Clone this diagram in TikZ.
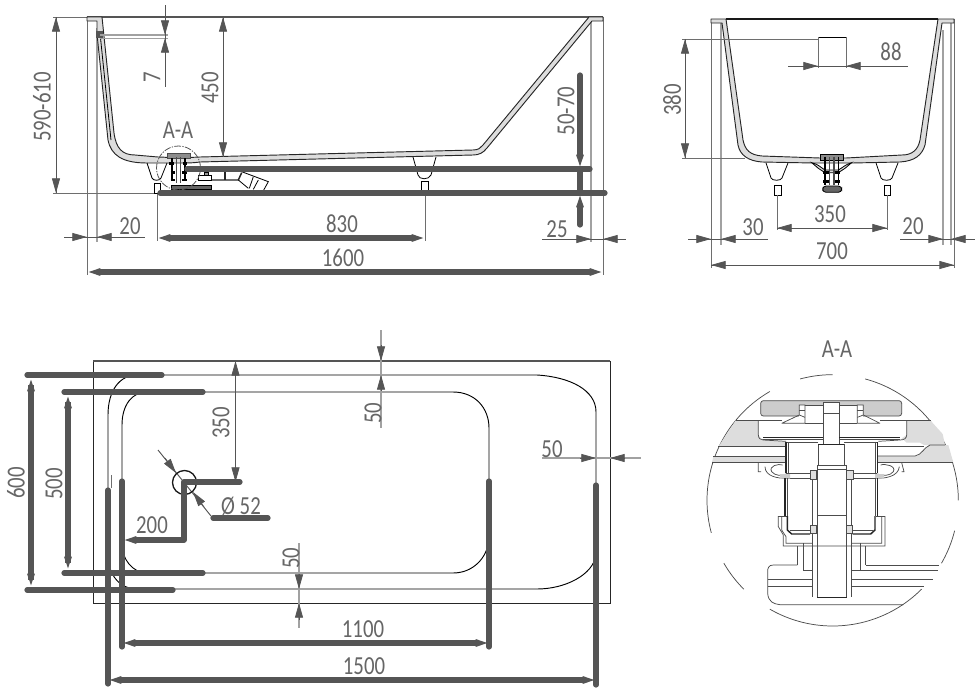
\documentclass[tikz,border=0pt]{standalone}
\usepackage{fontspec}
\setmainfont[FakeStretch=0.8]{Carlito}
\usetikzlibrary{arrows.meta}
\definecolor{dimc}{HTML}{555555}
\definecolor{txtc}{HTML}{666666}
\definecolor{bandc}{HTML}{DDDDDD}
\tikzset{
  x=0.75pt,y=-0.75pt,
  lbl/.style={font=\fontsize{19.5}{19.5}\selectfont,text=txtc,inner sep=0pt},
  vlbl/.style={lbl,rotate=90},
  ext/.style={draw=dimc!85,line width=0.6pt},
  lightext/.style={draw=dimc!55,line width=0.8pt},
  thin1/.style={draw=black,line width=0.6pt},
  bandline/.style={draw=black!85,fill=bandc,line width=0.7pt,line join=round},
  thickd/.style={draw=dimc,line width=3.9pt,line cap=round},
  hd/.style={draw=dimc,line width=0.6pt,-{Triangle[length=11pt,width=6pt,fill=dimc]}},
  dimline/.style={draw=dimc,line width=0.7pt},
  thk/.style={draw=dimc,line width=3.9pt,-{Triangle[length=10pt,width=5pt,fill=dimc]}},
  det/.style={draw=black!70,line width=0.55pt},
  detd/.style={draw=black!85,line width=1.1pt},
  arcd/.style={draw=black!70,line width=0.55pt,samples=30,smooth},
}
\begin{document}
\begin{tikzpicture}
\useasboundingbox (0,0) rectangle (980,696);
\fill[white] (0,0) rectangle (980,696);

%% ============ SIDE VIEW ===========
\draw[lightext] (97,28) -- (97,242);
\draw[lightext] (591,20) -- (591,242);
\draw[ext] (87,17) -- (87,275);
\draw[ext] (603,17) -- (603,275);
\draw[ext] (53,17) -- (87,17);
\draw[ext] (53,193) -- (157,193);
\draw[ext] (157,193) -- (157,241);
\draw[ext] (425,190) -- (425,241);
\draw[draw=dimc,line width=1.1pt] (87,17) -- (603,17);
% rim left + tub band
\draw[bandline] (87,17) -- (102,17) -- (114,133) .. controls (116,148) and (122,155) .. (135,155)
  -- (158,157) .. controls (165,157) and (172,158) .. (178,158) -- (200,157) -- (473,150)
  .. controls (478,150) and (481,148) .. (483,145) -- (589,17) -- (603,17) -- (603,21) -- (592,21)
  -- (487,148) .. controls (483,153) and (479,155) .. (473,155) -- (200,162)
  .. controls (192,163) and (190,163) .. (178,163) -- (147,163)
  .. controls (122,163) and (111,155) .. (108,140) -- (97,34) -- (97,21) -- (87,21) -- cycle;
\draw[thin1] (100,33) -- (111,140);
\fill[dimc] (96,31) rectangle (103,38);
\draw[lightext] (100,35) -- (168,35);
\draw[lightext] (100,38.5) -- (168,38.5);
% feet
\draw[thin1] (147,163) -- (152,178) .. controls (153,181) and (160,181) .. (161,178) -- (167,163);
\draw[thin1] (154,183) rectangle (160,193);
\draw[thin1] (413,157) -- (418,175) .. controls (419,180) and (429,180) .. (431,175) -- (436,157);
\draw[thin1] (421,181) rectangle (428,191);
% drain (side)
\begin{scope}[shift={(130,130)},x=0.25pt,y=-0.25pt]
 \draw[det,fill=black!45] (112,70) rectangle (180,84);
 \draw[black,line width=1.3pt] (125,85) -- (125,150) (165,85) -- (165,150);
 \draw[black!70,line width=1pt] (140,82) -- (140,160) (152,82) -- (152,160);
 \draw[black,line width=2pt] (118,100) -- (132,100) (158,100) -- (172,100) (122,128) -- (134,128) (156,128) -- (170,128) (122,150) -- (134,150) (156,150) -- (170,150);
 \draw[thin1,fill=black!60] (125,165) rectangle (245,178);
 \draw[thin1] (205,135) rectangle (245,150);
 \draw[thin1,fill=black!40] (222,128) rectangle (234,135);
 \draw[detd] (245,150) -- (325,150) -- (335,128);
 \draw[detd] (285,125) -- (285,150);
 \draw[thin1] (335,125) -- (415,155) -- (400,182) (355,175) -- (325,150);
 \draw[thin1] (370,140) -- (358,175) (385,150) -- (370,178);
\end{scope}
% circle A-A
\draw[dimc,line width=0.6pt,dash pattern=on 5pt off 1pt on 1pt off 1pt] (178.5,168) circle[radius=16.5pt];
\node[lbl] (aa1) at (178,130) {A-A};
% dims side
\draw[dimline] (56,17) -- (56,193);
\draw[hd] (56,30) -- (56,17);
\draw[hd] (56,180) -- (56,193);
\node[vlbl] (t590) at (42,107) {590-610};
\draw[dimline] (223,17) -- (223,157);
\draw[hd] (223,30) -- (223,17);
\draw[hd] (223,142) -- (223,157);
\node[vlbl] (t450) at (210,88) {450};
\draw[dimline] (165,5) -- (165,87);
\draw[hd] (165,20) -- (165,35);
\draw[hd] (165,53) -- (165,38);
\node[vlbl] (t7) at (152,77) {7};
\draw[dimline] (64,237) -- (145,237);
\draw[hd] (75,237) -- (87,237);
\draw[hd] (113,237) -- (97,237);
\node[lbl] (t20a) at (130,226) {20};
\draw[dimline] (542,239) -- (626,239);
\draw[hd] (576,239) -- (591,239);
\draw[hd] (619,239) -- (603,239);
\node[lbl] (t25) at (557,229) {25};
% thick lines side
\draw[thickd] (187,169) -- (590,169);
\draw[thickd] (160,193) -- (605,193);
\draw[thickd] (580,169) -- (580,193);
\draw[thickd] (580,75) -- (580,152);
\draw[thickd] (580,210) -- (580,225);
\draw[thk] (580,150) -- (580,168);
\draw[thk] (580,212) -- (580,194);
\draw[thk] (200,238) -- (157,238);
\draw[thk] (380,238) -- (425,238);
\draw[thk] (200,272) -- (87,272);
\draw[thk] (560,272) -- (603,272);
\draw[draw=dimc,line width=3.9pt] (190,238) -- (395,238);
\draw[draw=dimc,line width=3.9pt] (100,272) -- (590,272);
\node[lbl] (t830) at (342,224) {830};
\node[lbl] (t1600) at (343,258) {1600};
\node[vlbl] (t5070) at (566,111) {50-70};

%% ============ END VIEW ===========
\draw[lightext] (721,23) -- (721,245);
\draw[lightext] (943,30) -- (943,245);
\draw[lightext] (951,23) -- (951,245);
\draw[ext] (711,19) -- (711,268);
\draw[ext] (954,19) -- (954,268);
\draw[bandline] (711,19) -- (726,19) -- (743,140) .. controls (745,150) and (750,155) .. (762,156)
  -- (820,158) -- (846,158) -- (902,155) .. controls (912,155) and (918,150) .. (920,140)
  -- (938,19) -- (954,19) -- (954,23) -- (942,23) -- (925,145) .. controls (922,155) and (915,161) .. (900,162)
  -- (852,163) -- (813,163) -- (762,162) .. controls (748,161) and (740,155) .. (738,145)
  -- (722,23) -- (711,23) -- cycle;
\draw[black!90,line width=0.9pt] (726,19) -- (938,19);
\draw[thin1] (818,37) -- (846,37);
\draw[ext] (818,37) -- (818,68);
\draw[ext] (846,37) -- (846,68);
\draw[ext] (682,39) -- (818,39);
\draw[ext] (682,158) -- (745,158);
\draw[thin1] (766,163) -- (771,178) .. controls (772,181) and (781,181) .. (782,178) -- (788,163);
\draw[thin1] (774,185) rectangle (781,195);
\draw[thin1] (876,163) -- (881,178) .. controls (882,181) and (891,181) .. (892,178) -- (898,163);
\draw[thin1] (884,185) rectangle (890,195);
\draw[ext] (777,195) -- (777,230);
\draw[ext] (887,195) -- (887,230);
\begin{scope}[shift={(770,140)},x=0.25pt,y=-0.25pt]
 \draw[thin1,fill=black!45] (150,42) rectangle (220,62);
 \draw[thin1,fill=black!15] (125,68) .. controls (145,72) and (155,85) .. (165,90) -- (205,90) .. controls (215,85) and (228,72) .. (245,68) -- (225,85) -- (205,98) -- (165,98) -- (145,85) -- cycle;
 \draw[black,line width=1.2pt] (165,50) -- (165,135) (205,50) -- (205,135);
 \draw[black!70,line width=1pt] (178,50) -- (178,135) (192,50) -- (192,135);
 \draw[black,line width=2pt] (160,98) -- (176,98) (194,98) -- (210,98) (160,125) -- (176,125) (194,125) -- (210,125);
 \draw[thin1,fill=black!60,rounded corners=2.5pt] (158,138) rectangle (215,157);
\end{scope}
\draw[dimline] (685,39) -- (685,158);
\draw[hd] (685,54) -- (685,39);
\draw[hd] (685,143) -- (685,158);
\node[vlbl] (t380) at (672,100) {380};
\draw[dimline] (788,66) -- (908,66);
\draw[hd] (803,66) -- (818,66);
\draw[hd] (861,66) -- (846,66);
\node[lbl] (t88) at (891,52) {88};
\draw[dimline] (777,228) -- (887,228);
\draw[hd] (792,228) -- (777,228);
\draw[hd] (872,228) -- (887,228);
\node[lbl] (t350a) at (830,214) {350};
\draw[dimline] (688,239) -- (768,239);
\draw[hd] (696,239) -- (711,239);
\draw[hd] (736,239) -- (721,239);
\node[lbl] (t30) at (753,227) {30};
\draw[dimline] (900,239) -- (975,239);
\draw[hd] (928,239) -- (943,239);
\draw[hd] (966,239) -- (951,239);
\node[lbl] (t20b) at (913,226) {20};
\draw[dimline] (711,265) -- (954,265);
\draw[hd] (727,265) -- (711,265);
\draw[hd] (938,265) -- (954,265);
\node[lbl] (t700) at (832,251) {700};

%% ============ PLAN VIEW ===========
\draw[black!85,line width=0.6pt] (93,361) rectangle (610,603);
\draw[draw=dimc,line width=0.9pt] (93,361) -- (610,361);
\draw[thin1,line width=0.7pt] (108,415) .. controls (108,390) and (120,375) .. (137,375) -- (537,375)
   .. controls (570,377) and (596,390) .. (596,412) -- (596,555) .. controls (593,575) and (565,589) .. (537,589)
   -- (137,589) .. controls (120,589) and (108,575) .. (108,555) -- cycle;
\draw[thin1,line width=0.7pt] (122,425) .. controls (122,405) and (132,392) .. (147,392) -- (453,392)
   .. controls (475,392) and (489,408) .. (489,428) -- (489,540) .. controls (487,558) and (473,573) .. (453,573)
   -- (147,573) .. controls (132,573) and (122,558) .. (122,545) -- cycle;
\draw[ext] (111,475) -- (111,488);
% thin dims plan
\draw[lightext] (381,330) -- (381,428);
\draw[hd] (381,345) -- (381,361);
\draw[hd] (381,391) -- (381,375);
\node[vlbl] (t50a) at (373,413) {50};
\draw[lightext] (299,543) -- (299,628);
\draw[hd] (299,574) -- (299,589);
\draw[hd] (299,620) -- (299,603);
\node[vlbl] (t50b) at (291,558) {50};
\draw[lightext] (542,458) -- (641,458);
\draw[hd] (580,458) -- (596,458);
\draw[hd] (625,458) -- (610,458);
\node[lbl] (t50c) at (552,449) {50};
\draw[dimline] (235.5,361) -- (235.5,482);
\draw[hd] (235.5,376) -- (235.5,361);
\draw[hd] (235.5,467) -- (235.5,482);
\node[vlbl] (t350b) at (221,423) {350};
\draw[dimline] (158,450) -- (211,516);
\draw[hd] (165,458) -- (176,473);
\draw[hd] (204,507) -- (193,492);
\draw[black!90,line width=1pt] (184.5,482.5) circle[radius=9pt];
% thick plan
\draw[thickd] (27,375) -- (162,375);
\draw[thickd] (64,392) -- (203,392);
\draw[thickd] (64,573) -- (203,573);
\draw[thickd] (27,590) -- (173,590);
\draw[draw=dimc,line width=3.9pt] (31,385) -- (31,580);
\draw[draw=dimc,line width=3.9pt] (68,402) -- (68,563);
\draw[thk] (31,390) -- (31,378);
\draw[thk] (31,575) -- (31,587);
\draw[thk] (68,407) -- (68,395);
\draw[thk] (68,558) -- (68,570);
\draw[thickd] (108,490) -- (108,684);
\draw[thickd] (122,481) -- (122,647);
\draw[thickd] (489,481) -- (489,647);
\draw[thickd] (596,485) -- (596,685);
\draw[thk] (150,643) -- (122,643);
\draw[thk] (460,643) -- (489,643);
\draw[thk] (140,680) -- (108,680);
\draw[thk] (570,680) -- (596,680);
\draw[draw=dimc,line width=3.9pt] (140,643) -- (470,643);
\draw[draw=dimc,line width=3.9pt] (125,680) -- (580,680);
\draw[thickd,line join=round] (240,482) -- (184,482) -- (184,540) -- (140,540);
\draw[thk] (140,540) -- (123,540);
\draw[thickd] (213,518) -- (268,518);
\node[vlbl] (t600) at (16,483) {600};
\node[vlbl] (t500) at (54,484) {500};
\node[lbl] (t200) at (152,525) {200};
\node[lbl] (tphi) at (241,506) {Ø 52};
\node[lbl] (t1100) at (363,629) {1100};
\node[lbl] (t1500) at (364,666) {1500};

%% ============ DETAIL A-A ===========
\node[lbl] (aa2) at (837,349) {A-A};
\begin{scope}[shift={(700,330)},x=0.25pt,y=-0.25pt]
 % broken circle
 \foreach \aa/\bb in {105/90,75/0,-14/-30,-45/-120,-135/-150,-165/-240}{
   \draw[arcd] plot[domain=\aa:\bb] ({398+377*cos(\x)},{511-377*sin(\x)});}
 % gray fills
 \fill[bandc] (55,350) -- (108,270) -- (175,270) -- (175,315) -- (187,330) -- (258,335) -- (258,350) -- cycle;
 \fill[bandc] (40,380) -- (255,380) -- (255,398) -- (36,398) -- cycle;
 \fill[bandc] (620,270) -- (690,270) -- (728,312) -- (735,345) -- (690,345) -- (672,345) -- (660,338) -- (620,338) -- (605,325) -- (620,315) -- cycle;
 \fill[bandc] (533,378) -- (645,378) .. controls (665,375) and (672,355) .. (690,345) -- (745,345) -- (760,398) -- (533,398) -- cycle;
 \fill[white] (533,345) rectangle (655,378);
 % lines of tub
 \draw[det] (55,350) -- (258,350) (40,380) -- (255,380) (36,398) -- (255,398);
 \draw[det] (108,270) -- (175,270) (620,270) -- (692,270);
 \draw[det] (175,270) -- (175,315) .. controls (175,325) and (182,330) .. (190,330) -- (258,334);
 \draw[det] (620,270) -- (620,315) .. controls (620,325) and (612,330) .. (600,330) -- (535,334);
 \draw[det] (533,378) -- (645,378) .. controls (665,375) and (672,352) .. (690,345) -- (735,345);
 \draw[det] (533,398) -- (760,398);
 \draw[det] (533,350) -- (672,350);
 % cap
 \draw[det,fill=black!20,rounded corners=2pt] (182,212) rectangle (605,258);
 \fill[white] (298,225) rectangle (490,285);
 \draw[det] (175,270) -- (245,270);
 \draw[det] (540,270) -- (620,270);
 \draw[det] (245,280) -- (298,255) -- (298,225) -- (315,225) -- (315,280) -- (245,280);
 \draw[det] (540,280) -- (490,255) -- (490,225) -- (472,225) -- (472,280) -- (540,280);
 \draw[det] (298,240) -- (315,240) (472,240) -- (490,240);
 \draw[det] (315,225) -- (370,225) (418,225) -- (472,225) (315,280) -- (370,280) (418,280) -- (472,280);
 \draw[det] (298,255) -- (315,262) (490,255) -- (472,262);
 % stem
 \draw[det,fill=white] (370,218) rectangle (418,343);
 \draw[det] (370,250) -- (418,250);
 \draw[detd] (190,322) -- (370,322) (418,322) -- (600,322);
 \draw[det] (190,328) -- (370,328) (418,328) -- (600,328);
 \draw[det] (258,336) -- (355,336) (433,336) -- (530,336);
 \draw[detd] (258,336) -- (258,430) (532,336) -- (532,430);
 \draw[det] (265,336) -- (265,430) (525,336) -- (525,430);
 \draw[det,fill=white] (355,343) rectangle (433,405);
 \draw[detd] (355,343) -- (433,343);
 \draw[det,fill=white] (352,405) rectangle (440,555);
 \draw[det] (352,418) -- (440,418);
 % collar
 \draw[det] (258,430) -- (330,430) (460,430) -- (530,430) (258,445) -- (330,445) (460,445) -- (530,445);
 \draw[det] (175,398) -- (175,425) -- (183,425) (605,398) -- (612,425) -- (605,425);
 \draw[det] (195,410) .. controls (195,440) and (235,445) .. (258,445);
 \draw[det] (248,405) .. controls (235,400) and (205,408) .. (215,425) .. controls (225,438) and (245,438) .. (258,432);
 \draw[det] (598,410) .. controls (595,440) and (555,445) .. (532,445);
 \draw[det] (542,405) .. controls (555,400) and (590,408) .. (580,425) .. controls (570,438) and (550,438) .. (532,432);
 \fill[black!20] (240,432) rectangle (270,446) (525,432) rectangle (552,446);
 % inner tube
 \draw[det] (337,420) -- (337,802) (352,555) -- (352,802) (440,555) -- (440,802) (455,420) -- (455,802);
 \draw[det,fill=black!12] (332,422) rectangle (350,448);
 \draw[det,fill=black!12] (440,422) rectangle (460,448);
 \draw[det,fill=black!12] (332,585) rectangle (350,610);
 \draw[det,fill=black!12] (438,585) rectangle (458,610);
 % body
 \draw[detd] (255,445) -- (255,558) (532,445) -- (532,558);
 \draw[det] (263,445) -- (263,558) (525,445) -- (525,558);
 \draw[det] (235,558) -- (262,558) (528,558) -- (555,558);
 \draw[det] (235,558) -- (235,590) -- (250,615) -- (250,648) -- (555,648) -- (555,558);
 \draw[det] (245,558) -- (245,600) -- (258,620) -- (258,640) -- (337,640) (455,640) -- (545,640) -- (545,558);
 \draw[detd] (262,558) -- (262,600) -- (275,612) -- (330,612) (525,558) -- (525,600) -- (512,612) -- (458,612);
 \draw[det] (270,600) -- (330,600) (458,600) -- (520,600);
 % lower
 \draw[det] (292,648) -- (292,705) (310,640) -- (310,722) (480,640) -- (480,722) (497,648) -- (497,705);
 \draw[det] (310,722) -- (337,722) (455,722) -- (715,722);
 \draw[det] (292,705) -- (220,705) .. controls (205,705) and (203,715) .. (203,725) -- (203,790) .. controls (205,815) and (220,822) .. (240,824) -- (610,824);
 \draw[det] (497,705) -- (718,705);
 \draw[det] (203,748) -- (337,748) (455,748) -- (700,748);
 \draw[det] (203,768) -- (337,768) (455,768) -- (672,768);
 \draw[detd] (352,802) -- (440,802);
\end{scope}
\end{tikzpicture}
\end{document}
